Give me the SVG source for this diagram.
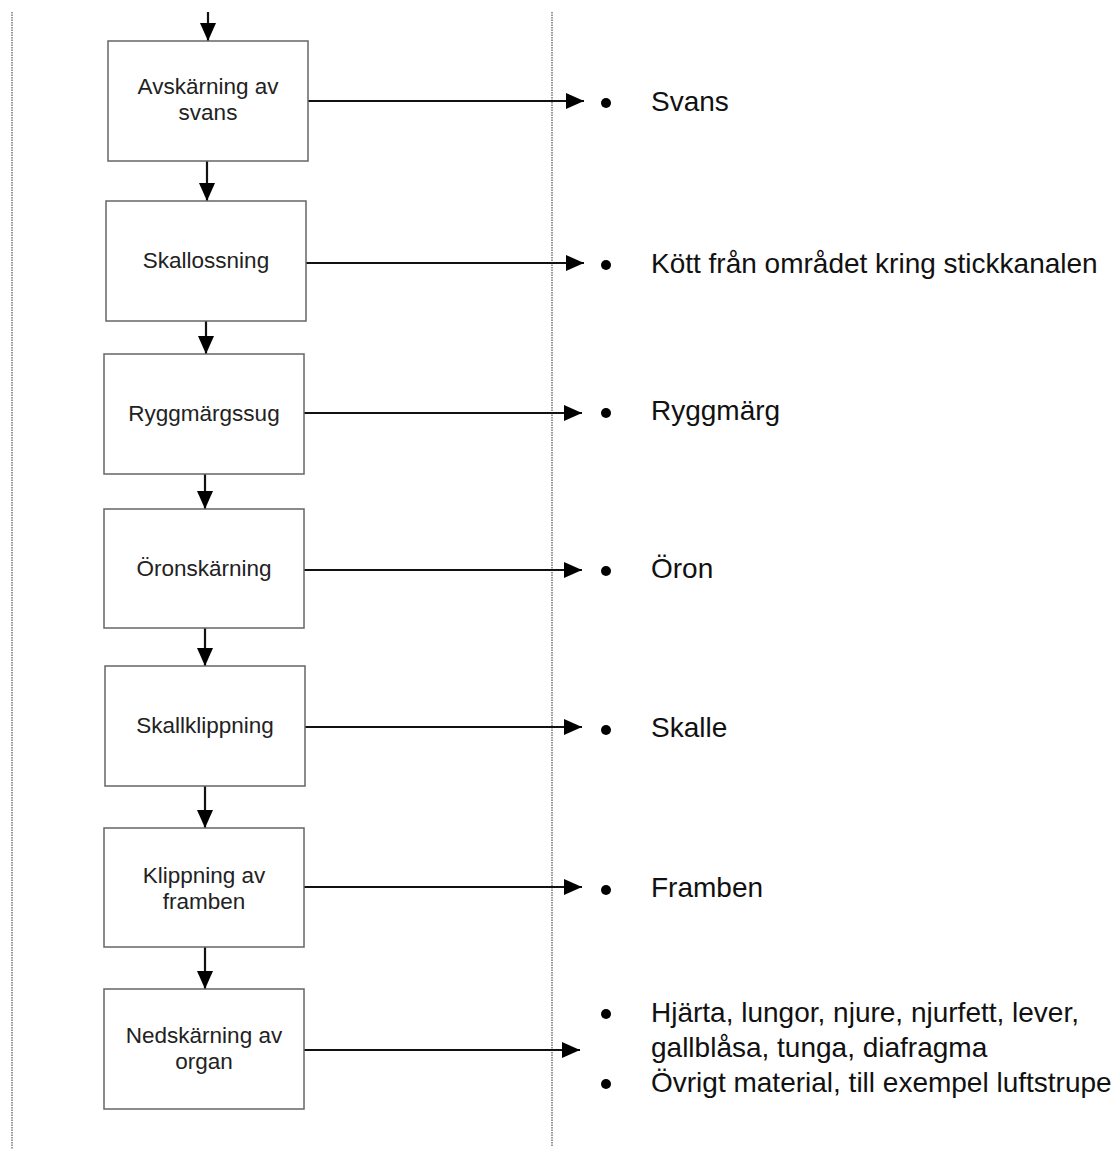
<svg xmlns="http://www.w3.org/2000/svg" width="1119" height="1149" viewBox="0 0 1119 1149">
<defs>
<marker id="ah" markerUnits="userSpaceOnUse" markerWidth="18" markerHeight="18" refX="18" refY="9" orient="auto">
<path d="M0,1 L18,9 L0,17 z" fill="#000"/>
</marker>
<style>
.box{fill:#fff;stroke:#666;stroke-width:1.5}
.bt{font-family:"Liberation Sans",Arial,sans-serif;font-size:22.5px;fill:#222;text-anchor:middle}
.rt{font-family:"Liberation Sans",Arial,sans-serif;font-size:28px;fill:#111}
.con{stroke:#111;stroke-width:2.2;fill:none;marker-end:url(#ah)}
.sep{stroke:#999;stroke-width:2;stroke-dasharray:1.5 1}
.dot{fill:#000}
</style>
</defs>
<rect width="1119" height="1149" fill="#fff"/>
<g id="separators">
<line class="sep" x1="12" y1="12" x2="12" y2="1149"/>
<line class="sep" x1="552" y1="12" x2="552" y2="1146"/>
</g>
<g id="connectors">
<line class="con" x1="208" y1="12" x2="208" y2="41"/>
<line class="con" x1="207" y1="161" x2="207" y2="201"/>
<line class="con" x1="206" y1="321" x2="206" y2="354"/>
<line class="con" x1="205" y1="474" x2="205" y2="509"/>
<line class="con" x1="205" y1="628" x2="205" y2="666"/>
<line class="con" x1="205" y1="786" x2="205" y2="828"/>
<line class="con" x1="205" y1="947" x2="205" y2="989"/>
<line class="con" x1="308" y1="101" x2="584" y2="101"/>
<line class="con" x1="306" y1="263" x2="584" y2="263"/>
<line class="con" x1="304" y1="413" x2="582" y2="413"/>
<line class="con" x1="304" y1="570" x2="582" y2="570"/>
<line class="con" x1="305" y1="727" x2="582" y2="727"/>
<line class="con" x1="304" y1="887" x2="582" y2="887"/>
<line class="con" x1="304" y1="1050" x2="580" y2="1050"/>
</g>
<g id="n1">
<rect class="box" x="108" y="41" width="200" height="120"/>
<text class="bt" x="208" y="94">Avskärning av</text>
<text class="bt" x="208" y="120">svans</text>
</g>
<g id="n2">
<rect class="box" x="106" y="201" width="200" height="120"/>
<text class="bt" x="206" y="268">Skallossning</text>
</g>
<g id="n3">
<rect class="box" x="104" y="354" width="200" height="120"/>
<text class="bt" x="204" y="421">Ryggmärgssug</text>
</g>
<g id="n4">
<rect class="box" x="104" y="509" width="200" height="119"/>
<text class="bt" x="204" y="576">Öronskärning</text>
</g>
<g id="n5">
<rect class="box" x="105" y="666" width="200" height="120"/>
<text class="bt" x="205" y="733">Skallklippning</text>
</g>
<g id="n6">
<rect class="box" x="104" y="828" width="200" height="119"/>
<text class="bt" x="204" y="883">Klippning av</text>
<text class="bt" x="204" y="909">framben</text>
</g>
<g id="n7">
<rect class="box" x="104" y="989" width="200" height="120"/>
<text class="bt" x="204" y="1043">Nedskärning av</text>
<text class="bt" x="204" y="1069">organ</text>
</g>
<g id="o1"><circle class="dot" cx="606" cy="103" r="5"/><text class="rt" x="651" y="111">Svans</text></g>
<g id="o2"><circle class="dot" cx="606" cy="265" r="5"/><text class="rt" x="651" y="273">Kött från området kring stickkanalen</text></g>
<g id="o3"><circle class="dot" cx="606" cy="413" r="5"/><text class="rt" x="651" y="420">Ryggmärg</text></g>
<g id="o4"><circle class="dot" cx="606" cy="571" r="5"/><text class="rt" x="651" y="578">Öron</text></g>
<g id="o5"><circle class="dot" cx="606" cy="730" r="5"/><text class="rt" x="651" y="737">Skalle</text></g>
<g id="o6"><circle class="dot" cx="606" cy="890" r="5"/><text class="rt" x="651" y="897">Framben</text></g>
<g id="o7">
<circle class="dot" cx="606" cy="1014" r="5"/>
<text class="rt" x="651" y="1022">Hjärta, lungor, njure, njurfett, lever,</text>
<text class="rt" x="651" y="1057">gallblåsa, tunga, diafragma</text>
<circle class="dot" cx="606" cy="1084" r="5"/>
<text class="rt" x="651" y="1092">Övrigt material, till exempel luftstrupe</text>
</g>
</svg>
